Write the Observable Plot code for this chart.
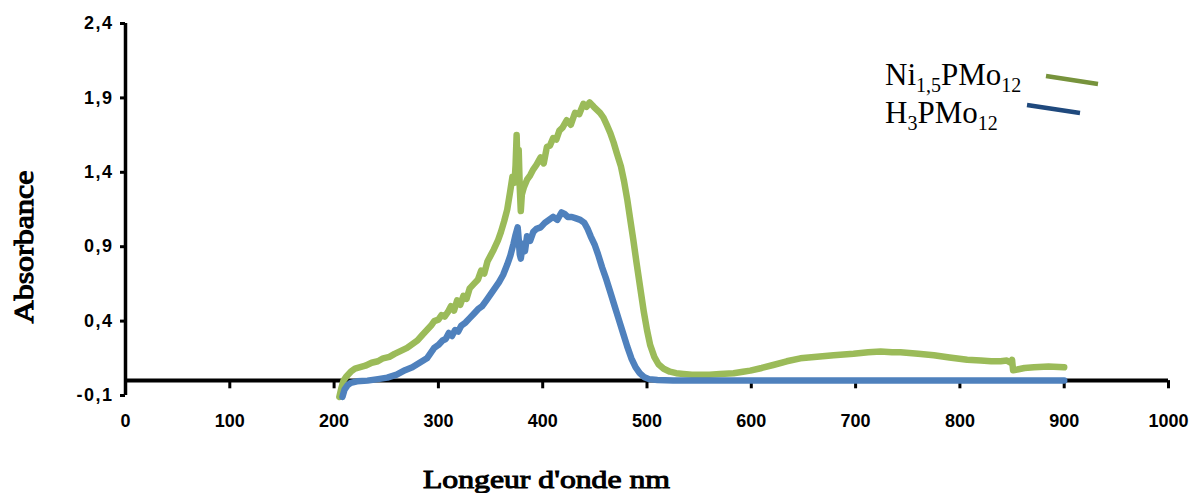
<!DOCTYPE html>
<html>
<head>
<meta charset="utf-8">
<script src="https://cdn.jsdelivr.net/npm/d3@7"></script>
<script src="https://cdn.jsdelivr.net/npm/@observablehq/plot@0.6"></script>
<style>
  html, body { margin: 0; padding: 0; background: #fff; }
  #wrap { position: relative; width: 1194px; height: 493px; }
  #overlay { position: absolute; left: 0; top: 0; pointer-events: none; }
  #wrap svg g[aria-label="y-axis tick label"] text { letter-spacing: 1.5px; }
</style>
</head>
<body>
<div id="wrap"></div>
<script>
// ---- Data ----
const xTicks = [0, 100, 200, 300, 400, 500, 600, 700, 800, 900, 1000];
const yTicks = [-0.1, 0.4, 0.9, 1.4, 1.9, 2.4];

const seriesNames = ["Ni1,5PMo12", "H3PMo12"];

// Ni1,5PMo12 (green)
const niWavelength = [205, 207, 209, 212, 216, 220, 225, 230, 236, 242, 247, 253, 258, 264, 270, 276, 280, 285, 289, 293, 296, 300, 303, 306, 309, 312, 315, 318, 321, 324, 327, 330, 334, 338, 341, 344, 347, 350, 353, 357, 360, 363, 366, 369, 371, 373, 374, 375, 376, 377, 378, 379, 380, 382, 385, 388, 391, 394, 398, 401, 404, 407, 410, 413, 416, 419, 423, 427, 431, 435, 439, 442, 445, 449, 452, 455, 458, 462, 465, 468, 471, 475, 478, 481, 484, 487, 490, 494, 497, 500, 503, 507, 511, 516, 522, 528, 535, 543, 551, 560, 570, 583, 592, 599, 610, 621, 634, 647, 663, 679, 698, 712, 724, 735, 743, 760, 775, 790, 807, 820, 830, 839, 845, 849, 850, 851, 855, 862, 871, 885, 900];
const niAbs = [-0.11, -0.05, 0.0, 0.03, 0.06, 0.08, 0.09, 0.10, 0.12, 0.13, 0.15, 0.16, 0.18, 0.20, 0.22, 0.25, 0.27, 0.31, 0.34, 0.37, 0.40, 0.41, 0.44, 0.43, 0.46, 0.50, 0.47, 0.54, 0.51, 0.57, 0.55, 0.62, 0.65, 0.68, 0.74, 0.72, 0.80, 0.84, 0.88, 0.94, 1.00, 1.07, 1.15, 1.28, 1.37, 1.33, 1.45, 1.65, 1.40, 1.55, 1.30, 1.14, 1.25, 1.30, 1.35, 1.38, 1.42, 1.45, 1.50, 1.46, 1.57, 1.58, 1.63, 1.62, 1.68, 1.70, 1.75, 1.72, 1.80, 1.79, 1.86, 1.84, 1.87, 1.84, 1.82, 1.80, 1.77, 1.71, 1.66, 1.60, 1.53, 1.44, 1.34, 1.22, 1.08, 0.94, 0.79, 0.60, 0.46, 0.34, 0.24, 0.16, 0.11, 0.08, 0.06, 0.05, 0.045, 0.04, 0.04, 0.04, 0.045, 0.05, 0.06, 0.067, 0.085, 0.105, 0.13, 0.15, 0.16, 0.17, 0.18, 0.19, 0.195, 0.19, 0.19, 0.18, 0.17, 0.155, 0.14, 0.135, 0.13, 0.13, 0.135, 0.12, 0.14, 0.07, 0.075, 0.085, 0.09, 0.095, 0.09];

// H3PMo12 (blue)
const hWavelength = [208, 210, 213, 216, 222, 232, 242, 251, 260, 268, 275, 282, 289, 293, 296, 300, 304, 307, 310, 313, 316, 319, 322, 326, 330, 334, 338, 342, 346, 350, 354, 358, 362, 366, 369, 372, 374, 376, 377, 378, 379, 381, 383, 385, 388, 391, 394, 398, 402, 406, 410, 414, 418, 421, 424, 428, 432, 436, 440, 443, 446, 450, 453, 457, 461, 465, 469, 473, 477, 481, 485, 489, 493, 497, 502, 510, 525, 600, 700, 800, 900];
const hAbs = [-0.11, -0.06, -0.03, -0.015, -0.005, 0.0, 0.01, 0.02, 0.04, 0.07, 0.09, 0.12, 0.15, 0.19, 0.22, 0.24, 0.27, 0.28, 0.32, 0.30, 0.34, 0.33, 0.37, 0.39, 0.42, 0.45, 0.48, 0.50, 0.54, 0.58, 0.62, 0.66, 0.71, 0.78, 0.84, 0.92, 0.98, 1.03, 0.95, 0.85, 0.82, 0.92, 0.87, 0.97, 0.94, 1.00, 1.02, 1.03, 1.06, 1.08, 1.10, 1.08, 1.13, 1.12, 1.10, 1.10, 1.09, 1.08, 1.06, 1.02, 0.97, 0.91, 0.85, 0.76, 0.68, 0.59, 0.50, 0.41, 0.32, 0.23, 0.15, 0.09, 0.05, 0.025, 0.01, 0.004, 0.0, 0.0, 0.0, 0.0, 0.0];

const niData = niWavelength.map((x, i) => ({x, y: niAbs[i]}));
const hData = hWavelength.map((x, i) => ({x, y: hAbs[i]}));

const chart = Plot.plot({
  width: 1194,
  height: 493,
  marginLeft: 125,
  marginRight: 26,
  marginTop: 23,
  marginBottom: 98,
  x: {domain: [0, 1000]},
  y: {domain: [-0.1, 2.4]},
  style: {
    background: "#fff",
    fontFamily: "'Liberation Sans', Arial, sans-serif",
    fontSize: "18px",
    fontWeight: "bold",
    color: "#000"
  },
  marks: [
    Plot.ruleX([0], {y1: -0.1, y2: 2.4, stroke: "#000", strokeWidth: 3.5}),
    Plot.ruleX(xTicks, {x: d => d, y1: 0, y2: -0.055, stroke: "#000", strokeWidth: 3}),
    Plot.axisY({ticks: yTicks, tickSize: 5, tickPadding: 7, strokeWidth: 3,
      tickFormat: d => d.toFixed(1).replace(".", ","), label: null}),
    Plot.axisX({ticks: xTicks, tickSize: 0, tickPadding: 19, tickFormat: d => String(d), label: null}),
    Plot.ruleY([0], {x1: 0, x2: 1000, stroke: "#000", strokeWidth: 4}),
    Plot.line(niData, {x: "x", y: "y", stroke: "#9BBB59", strokeWidth: 6.5, curve: "linear", strokeLinejoin: "round"}),
    Plot.line(hData, {x: "x", y: "y", stroke: "#4F81BD", strokeWidth: 6.5, curve: "linear", strokeLinejoin: "round"})
  ]
});

const wrap = document.getElementById("wrap");
wrap.appendChild(chart);

// Overlay: axis titles and legend
const ov = d3.select(wrap).append("svg")
  .attr("id", "overlay")
  .attr("width", 1194).attr("height", 493);

const serif = "'Liberation Serif', 'Times New Roman', serif";

ov.append("text")
  .attr("transform", "translate(33,247) rotate(-90)")
  .attr("text-anchor", "middle")
  .attr("font-family", serif)
  .attr("font-size", 28)
  .attr("stroke", "#000").attr("stroke-width", 1.1)
  .attr("textLength", 153)
  .attr("lengthAdjust", "spacingAndGlyphs")
  .text("Absorbance");

ov.append("text")
  .attr("x", 423).attr("y", 488)
  .attr("font-family", serif)
  .attr("font-size", 25)
  .attr("stroke", "#000").attr("stroke-width", 1.0)
  .attr("textLength", 247)
  .attr("lengthAdjust", "spacingAndGlyphs")
  .text("Longeur d'onde nm");

// Legend entries
function legendLabel(y, parts) {
  const t = ov.append("text")
    .attr("x", 885).attr("y", y)
    .attr("font-family", serif)
    .attr("font-size", 31)
    .attr("fill", "#000");
  let offset = 0;
  parts.forEach(([s, sub]) => {
    const target = sub ? 7 : 0;
    const ts = t.append("tspan").text(s).attr("dy", target - offset);
    if (sub) ts.attr("font-size", 20);
    offset = target;
  });
}
legendLabel(85, [["Ni"], ["1,5", true], ["PMo"], ["12", true]]);
legendLabel(123, [["H"], ["3", true], ["PMo"], ["12", true]]);

ov.append("line").attr("x1", 1046).attr("y1", 76).attr("x2", 1098).attr("y2", 84)
  .attr("stroke", "#77933C").attr("stroke-width", 4.5);
ov.append("line").attr("x1", 1027).attr("y1", 105).attr("x2", 1080).attr("y2", 113)
  .attr("stroke", "#1F497D").attr("stroke-width", 4.5);
</script>
</body>
</html>
